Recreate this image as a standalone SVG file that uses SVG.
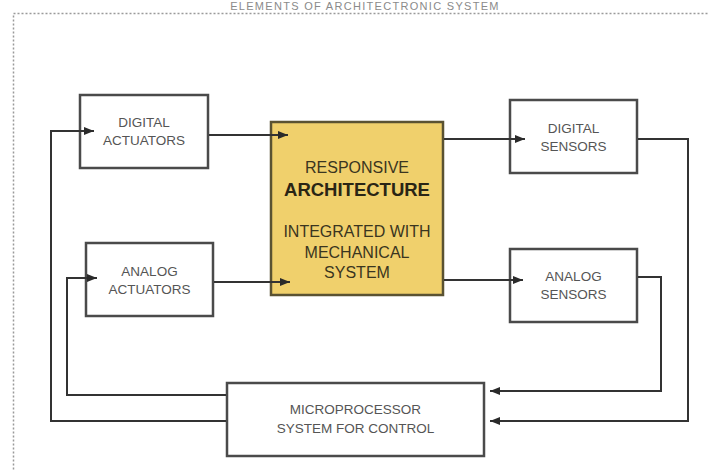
<svg xmlns="http://www.w3.org/2000/svg" width="709" height="471" viewBox="0 0 709 471">
<defs>
<marker id="ah" viewBox="0 0 10 8" refX="10" refY="4" markerWidth="10" markerHeight="8" markerUnits="userSpaceOnUse" orient="auto">
<path d="M0,0 L10,4 L0,8 Z" fill="#2a2a2a"/>
</marker>
</defs>
<style>
.box{fill:#ffffff;stroke:#4a4a4a;stroke-width:2.5}
.core{fill:#F0D06C;stroke:#5a5232;stroke-width:2.5}
.lbl{font-family:"Liberation Sans",Arial,sans-serif;font-size:13.5px;fill:#555555;text-anchor:middle}
.clbl{font-family:"Liberation Sans",Arial,sans-serif;font-size:16px;fill:#3a3520;text-anchor:middle}
.cbold{font-family:"Liberation Sans",Arial,sans-serif;font-size:18.5px;font-weight:bold;fill:#2a2515;text-anchor:middle}
.con{fill:none;stroke:#333333;stroke-width:2}
.ar{marker-end:url(#ah)}
</style>
<rect width="709" height="471" fill="#ffffff"/>
<rect x="13.5" y="13.5" width="720" height="480" fill="none" stroke="#9a9a9a" stroke-width="1.5" stroke-dasharray="2,2"/>
<text x="365" y="9.5" font-family="Liberation Sans,Arial,sans-serif" font-size="11" letter-spacing="1.3" fill="#8a8a8a" text-anchor="middle">ELEMENTS OF ARCHITECTRONIC SYSTEM</text>

<g id="digital-actuators">
<rect class="box" x="80" y="95" width="128" height="73"/>
<text class="lbl" x="144" y="127">DIGITAL</text>
<text class="lbl" x="144" y="145">ACTUATORS</text>
</g>
<g id="analog-actuators">
<rect class="box" x="86" y="243" width="127" height="73"/>
<text class="lbl" x="149.5" y="276">ANALOG</text>
<text class="lbl" x="149.5" y="294">ACTUATORS</text>
</g>
<g id="responsive-architecture">
<rect class="core" x="271" y="122" width="172" height="173"/>
<text class="clbl" x="357" y="173">RESPONSIVE</text>
<text class="cbold" x="357" y="196">ARCHITECTURE</text>
<text class="clbl" x="357" y="237">INTEGRATED WITH</text>
<text class="clbl" x="357" y="258">MECHANICAL</text>
<text class="clbl" x="357" y="278">SYSTEM</text>
</g>
<g id="digital-sensors">
<rect class="box" x="510" y="100" width="127" height="73"/>
<text class="lbl" x="573.5" y="133">DIGITAL</text>
<text class="lbl" x="573.5" y="151">SENSORS</text>
</g>
<g id="analog-sensors">
<rect class="box" x="510" y="249" width="127" height="73"/>
<text class="lbl" x="573.5" y="281">ANALOG</text>
<text class="lbl" x="573.5" y="299">SENSORS</text>
</g>
<g id="microprocessor">
<rect class="box" x="227" y="383" width="257" height="73"/>
<text class="lbl" x="355.5" y="414" font-size="13">MICROPROCESSOR</text>
<text class="lbl" x="355.5" y="433" font-size="13">SYSTEM FOR CONTROL</text>
</g>

<g id="connectors">
<path class="con ar" d="M209,135 L288,135"/>
<path class="con ar" d="M214,282 L290,282"/>
<path class="con ar" d="M444,139 L525,139"/>
<path class="con ar" d="M444,280 L523,280"/>
<path class="con ar" d="M638,139 L688,139 L688,421 L490,421"/>
<path class="con ar" d="M638,277 L661,277 L661,391 L490,391"/>
<path class="con ar" d="M226,421 L51,421 L51,131 L94,131"/>
<path class="con ar" d="M226,395 L67,395 L67,278 L97,278"/>
</g>
</svg>
